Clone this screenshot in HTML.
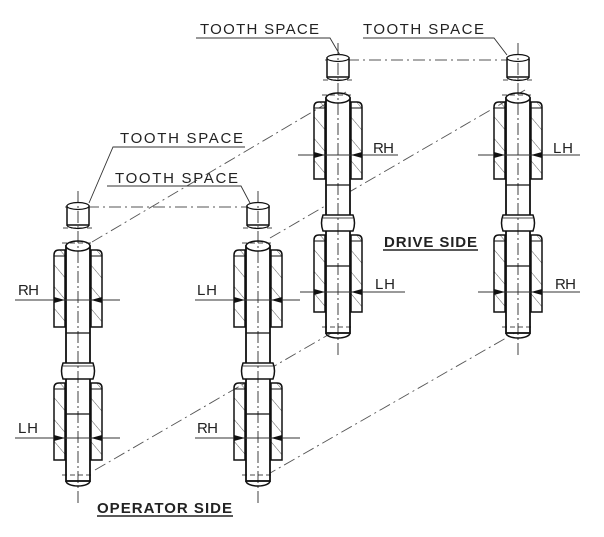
<!DOCTYPE html>
<html><head><meta charset="utf-8"><style>
html,body{margin:0;padding:0;background:#fff}
svg{display:block}
text{font-family:"Liberation Sans",sans-serif;fill:#222}
</style></head><body>
<svg width="604" height="537" viewBox="0 0 604 537" xmlns="http://www.w3.org/2000/svg">
<defs>
<pattern id="h" width="14" height="14" patternUnits="userSpaceOnUse" patternTransform="rotate(-40)">
<line x1="0" y1="0" x2="0" y2="14" stroke="#333" stroke-width="0.8"/>
</pattern>
<g id="nut">
<path d="M-24,5 Q-24,0 -19,0 L-13,0 L-13,77 L-24,77 Z" fill="url(#h)" stroke="#111" stroke-width="1.5"/>
<path d="M24,5 Q24,0 19,0 L13,0 L13,77 L24,77 Z" fill="url(#h)" stroke="#111" stroke-width="1.5"/>
<line x1="-24" y1="6" x2="-13" y2="6" stroke="#111" stroke-width="1"/>
<line x1="24" y1="6" x2="13" y2="6" stroke="#111" stroke-width="1"/>
</g>
<g id="shaft" fill="none" stroke="#111">
<rect x="-11" y="3" width="22" height="19" fill="#fff" stroke-width="1.5"/>
<ellipse cx="0" cy="3" rx="11" ry="3.5" fill="#fff" stroke-width="1.2"/>
<path d="M-11,22 A11,3.5 0 0 0 11,22" stroke-width="1.2"/>
<line x1="-15" y1="25" x2="15" y2="25" stroke-width="0.8" stroke-dasharray="5,3"/>
<rect x="-12" y="43" width="24" height="235" fill="#fff" stroke-width="1.8"/>
<ellipse cx="0" cy="43" rx="12" ry="5" fill="#fff" stroke-width="1.5"/>
<line x1="-16" y1="40" x2="16" y2="40" stroke-width="0.8" stroke-dasharray="5,3"/>
<path d="M-12,278 A12,5 0 0 0 12,278" stroke-width="1.5"/>
<line x1="-16" y1="272" x2="16" y2="272" stroke-width="0.8" stroke-dasharray="5,3"/>
<line x1="-12" y1="130" x2="12" y2="130" stroke-width="1.2"/>
<line x1="-12" y1="211" x2="12" y2="211" stroke-width="1.2"/>
<path d="M-15,160 L15,160 Q18,168 15,176 L-15,176 Q-18,168 -15,160 Z" fill="#fff" stroke-width="1.5"/>
<path d="M-15,163 L15,163" stroke-width="0.8"/>
<use href="#nut" y="47"/>
<use href="#nut" y="180"/>
<line x1="0" y1="-12" x2="0" y2="300" stroke-width="0.8" stroke-dasharray="12,3,2,3"/>
</g>
</defs>

<g stroke="#555" stroke-width="0.9" stroke-dasharray="12,4,2,4" fill="none">
<line x1="65" y1="207" x2="270" y2="207"/>
<line x1="325" y1="60" x2="530" y2="60"/>
<line x1="92" y1="242" x2="346" y2="92"/>
<line x1="270" y1="238" x2="525" y2="90"/>
<line x1="95" y1="470" x2="340" y2="328"/>
<line x1="265" y1="476" x2="520" y2="330"/>
</g>

<use href="#shaft" x="78" y="203"/>
<use href="#shaft" x="258" y="203"/>
<use href="#shaft" x="338" y="55"/>
<use href="#shaft" x="518" y="55"/>

<g stroke="#333" stroke-width="0.9">
<line x1="15" y1="300" x2="120" y2="300"/>
<line x1="15" y1="438" x2="120" y2="438"/>
<line x1="195" y1="300" x2="300" y2="300"/>
<line x1="195" y1="438" x2="300" y2="438"/>
<line x1="298" y1="155" x2="398" y2="155"/>
<line x1="478" y1="155" x2="580" y2="155"/>
<line x1="300" y1="292" x2="405" y2="292"/>
<line x1="478" y1="292" x2="580" y2="292"/>
</g>
<g fill="#111">
<path d="M54,297 L65,300 L54,303Z"/><path d="M102,297 L91,300 L102,303Z"/>
<path d="M54,435 L65,438 L54,441Z"/><path d="M102,435 L91,438 L102,441Z"/>
<path d="M234,297 L245,300 L234,303Z"/><path d="M282,297 L271,300 L282,303Z"/>
<path d="M234,435 L245,438 L234,441Z"/><path d="M282,435 L271,438 L282,441Z"/>
<path d="M314,152 L325,155 L314,158Z"/><path d="M362,152 L351,155 L362,158Z"/>
<path d="M494,152 L505,155 L494,158Z"/><path d="M542,152 L531,155 L542,158Z"/>
<path d="M314,289 L325,292 L314,295Z"/><path d="M362,289 L351,292 L362,295Z"/>
<path d="M494,289 L505,292 L494,295Z"/><path d="M542,289 L531,292 L542,295Z"/>
</g>
<g font-size="15">
<text x="18" y="295" textLength="21">RH</text>
<text x="18" y="433" textLength="20">LH</text>
<text x="197" y="295" textLength="20">LH</text>
<text x="197" y="433" textLength="21">RH</text>
<text x="373" y="153" textLength="21">RH</text>
<text x="553" y="153" textLength="20">LH</text>
<text x="375" y="289" textLength="20">LH</text>
<text x="555" y="289" textLength="21">RH</text>
</g>

<g font-size="15">
<text x="120" y="143" textLength="123" lengthAdjust="spacing">TOOTH SPACE</text>
<text x="115" y="183" textLength="123" lengthAdjust="spacing">TOOTH SPACE</text>
<text x="200" y="34" textLength="119" lengthAdjust="spacing">TOOTH SPACE</text>
<text x="363" y="34" textLength="121" lengthAdjust="spacing">TOOTH SPACE</text>
</g>
<g stroke="#333" stroke-width="0.9" fill="none">
<polyline points="245,147 113,147 89,203"/>
<polyline points="107,186 241,186 250,203"/>
<polyline points="196,38 330,38 340,55"/>
<polyline points="363,38 494,38 507,55"/>
</g>

<text x="384" y="247" font-size="15" font-weight="bold" textLength="93" fill="#111">DRIVE SIDE</text>
<line x1="383" y1="250" x2="478" y2="250" stroke="#222" stroke-width="1.4"/>
<text x="97" y="513" font-size="15" font-weight="bold" textLength="135" fill="#111">OPERATOR SIDE</text>
<line x1="97" y1="516" x2="233" y2="516" stroke="#222" stroke-width="1.4"/>
</svg>
</body></html>
